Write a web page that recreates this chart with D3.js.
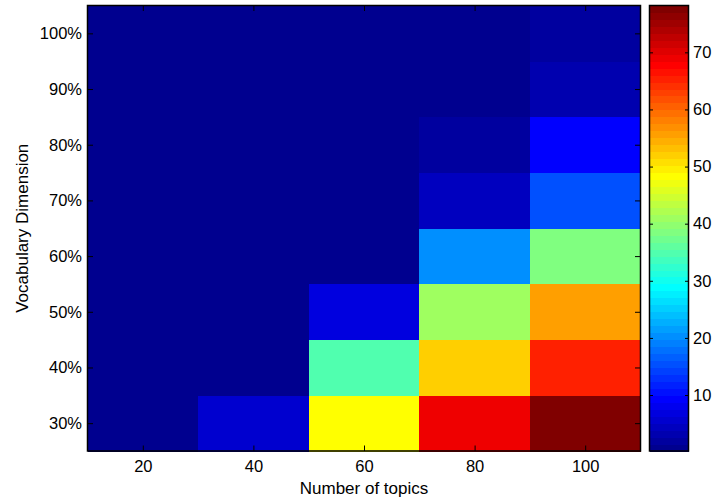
<!DOCTYPE html>
<html>
<head>
<meta charset="utf-8">
<style>
body { margin: 0; background: #fff; }
text { font-family: "Liberation Sans", Arial, sans-serif; font-size: 17px; fill: #000; }
.tick line { stroke: #000; }
</style>
<script src="https://cdn.jsdelivr.net/npm/d3@7"></script>
</head>
<body>
<div id="chart"></div>
<script>
const topics = [20, 40, 60, 80, 100];
const vocab = [30, 40, 50, 60, 70, 80, 90, 100];
// one array per number of topics, values going from 30% up to 100%
const t20  = [0.6, 0.5, 0.4, 0.3, 0.3, 0.2, 0.2, 0.2];
const t40  = [5.7, 0.9, 0.6, 0.5, 0.4, 0.3, 0.3, 0.2];
const t60  = [48.2, 34.6, 7.0, 1.0, 0.7, 0.5, 0.4, 0.3];
const t80  = [69.1, 51.9, 40.5, 20.3, 4.5, 2.0, 1.2, 0.8];
const t100 = [78.2, 65.4, 55.7, 38.6, 15.4, 9.3, 3.3, 2.0];
const xTicks = [20, 40, 60, 80, 100];
const yTicks = [30, 40, 50, 60, 70, 80, 90, 100];
const cbTicks = [10, 20, 30, 40, 50, 60, 70];

const columns = [t20, t40, t60, t80, t100];
const cells = [];
topics.forEach((t, i) => vocab.forEach((v, j) => cells.push({t: t, v: v, value: columns[i][j]})));

const W = 714, H = 502;
const plot = {left: 87.5, right: 640.5, top: 5.5, bottom: 451};
const cb = {left: 649.5, right: 688.5};
const tickFont = "16.5px";

const svg = d3.select("#chart").append("svg").attr("width", W).attr("height", H);

const x = d3.scaleLinear().domain([10, 110]).range([plot.left, plot.right]);
const y = d3.scaleLinear().domain([25, 105]).range([plot.bottom, plot.top]);

const vmin = d3.min(cells, d => d.value), vmax = d3.max(cells, d => d.value);
const N = 64;

// matlab jet(64)
function jet(k) {
    const t = (k + 1) / N;
    const c = v => Math.round(255 * Math.max(0, Math.min(1, v)));
    return d3.rgb(c(1.5 - Math.abs(4 * t - 3)), c(1.5 - Math.abs(4 * t - 2)), c(1.5 - Math.abs(4 * t - 1)));
}
const colorIndex = d3.scaleQuantize().domain([vmin, vmax]).range(d3.range(N));
const color = v => jet(colorIndex(v));

svg.append("g").selectAll("rect")
.data(cells)
.enter()
.append("rect")
.attr("x", d => x(d.t - 10))
.attr("y", d => y(d.v + 5))
.attr("width", d => x(d.t + 10) - x(d.t - 10) + 0.5)
.attr("height", d => y(d.v - 5) - y(d.v + 5) + 0.5)
.attr("fill", d => color(d.value))
.attr("shape-rendering", "crispEdges");

// axes, ticks inside
const tl = 5.5;
svg.append("g").attr("transform", `translate(0,${plot.bottom})`)
.call(d3.axisBottom(x).tickValues(xTicks).tickSize(-tl).tickPadding(9.5))
.call(g => g.select(".domain").remove());
svg.append("g").attr("transform", `translate(0,${plot.top})`)
.call(d3.axisTop(x).tickValues(xTicks).tickSize(-tl).tickFormat(""))
.call(g => g.select(".domain").remove());
svg.append("g").attr("transform", `translate(${plot.left},0)`)
.call(d3.axisLeft(y).tickValues(yTicks).tickSize(-tl).tickPadding(5.5).tickFormat(d => d + "%"))
.call(g => g.select(".domain").remove());
svg.append("g").attr("transform", `translate(${plot.right},0)`)
.call(d3.axisRight(y).tickValues(yTicks).tickSize(-tl).tickFormat(""))
.call(g => g.select(".domain").remove());
svg.selectAll(".tick text").style("font-size", tickFont).style("font-family", "'Liberation Sans', Arial, sans-serif");

svg.append("rect")
.attr("x", plot.left).attr("y", plot.top)
.attr("width", plot.right - plot.left).attr("height", plot.bottom - plot.top)
.attr("fill", "none").attr("stroke", "#000").attr("stroke-width", 1.5);

svg.append("text")
.attr("x", (plot.left + plot.right) / 2)
.attr("y", 494)
.attr("text-anchor", "middle")
.text("Number of topics");

svg.append("text")
.attr("transform", `translate(28,${(plot.top + plot.bottom) / 2}) rotate(-90)`)
.attr("text-anchor", "middle")
.text("Vocabulary Dimension");

// colorbar
const cy = d3.scaleLinear().domain([vmin, vmax]).range([plot.bottom, plot.top]);
const step = (vmax - vmin) / N;
svg.append("g").selectAll("rect")
.data(d3.range(N))
.enter()
.append("rect")
.attr("x", cb.left)
.attr("y", k => cy(vmin + (k + 1) * step))
.attr("width", cb.right - cb.left)
.attr("height", k => cy(vmin + k * step) - cy(vmin + (k + 1) * step) + 0.5)
.attr("fill", k => jet(k))
.attr("shape-rendering", "crispEdges");

svg.append("g").attr("transform", `translate(${cb.right},0)`)
.call(d3.axisRight(cy).tickValues(cbTicks).tickSize(-3.5).tickPadding(4.5))
.call(g => g.select(".domain").remove())
.call(g => g.selectAll("text").style("font-size", tickFont).style("font-family", "'Liberation Sans', Arial, sans-serif"));
svg.append("g").attr("transform", `translate(${cb.left},0)`)
.call(d3.axisLeft(cy).tickValues(cbTicks).tickSize(-3.5).tickFormat(""))
.call(g => g.select(".domain").remove());

svg.append("rect")
.attr("x", cb.left).attr("y", plot.top)
.attr("width", cb.right - cb.left).attr("height", plot.bottom - plot.top)
.attr("fill", "none").attr("stroke", "#000").attr("stroke-width", 1.5);
</script>
</body>
</html>
